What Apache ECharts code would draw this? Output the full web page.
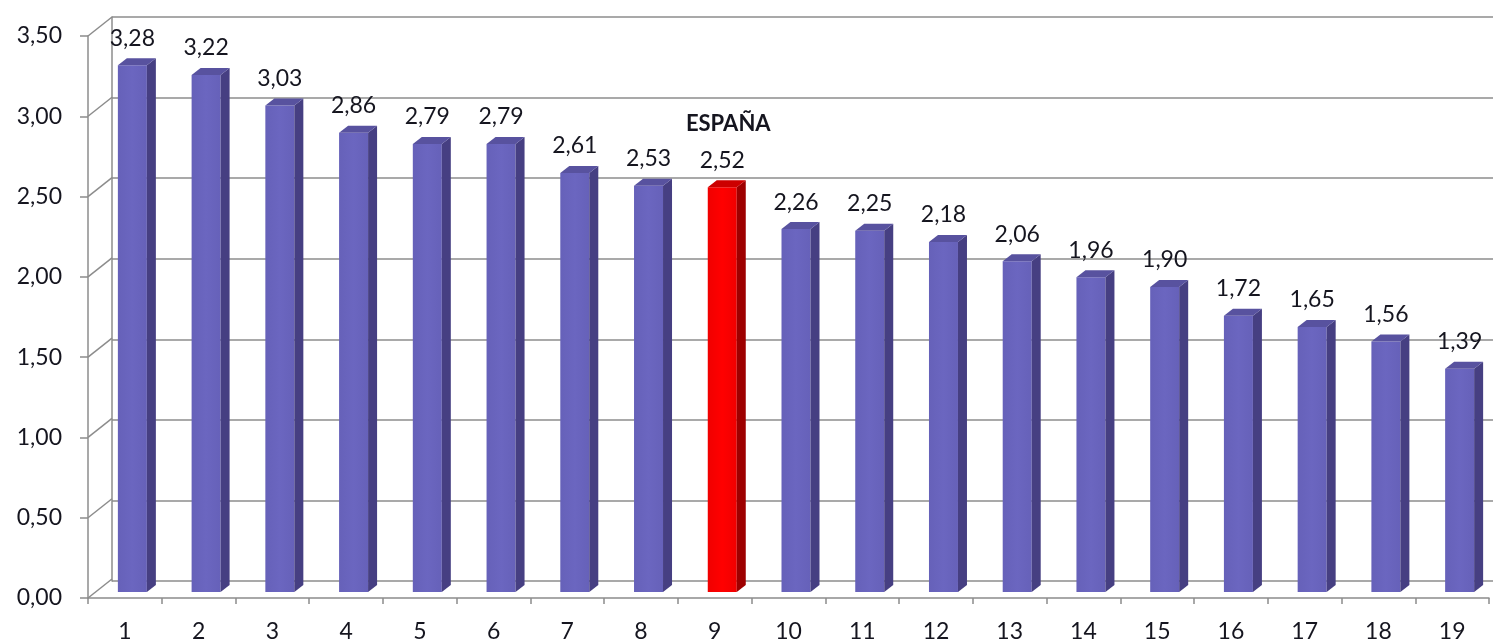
<!DOCTYPE html>
<html>
<head>
<meta charset="utf-8">
<script src="https://cdn.jsdelivr.net/npm/echarts@6/dist/echarts.min.js"></script>
<style>
    html, body { margin: 0; padding: 0; background: #fff; }
    #chart { width: 1493px; height: 643px; }
</style>
</head>
<body>
<div id="chart"></div>
<script>
// datos
const categories = ['1', '2', '3', '4', '5', '6', '7', '8', '9', '10', '11', '12', '13', '14', '15', '16', '17', '18', '19'];
const values = [3.28, 3.22, 3.03, 2.86, 2.79, 2.79, 2.61, 2.53, 2.52, 2.26, 2.25, 2.18, 2.06, 1.96, 1.90, 1.72, 1.65, 1.56, 1.39];
const yTicks = [0, 0.5, 1, 1.5, 2, 2.5, 3, 3.5];
const highlightIndex = 8;
const highlightName = 'ESPAÑA';

const FONT = 'Lato, "DejaVu Sans", sans-serif';
const TEXT = '#15151f';
const GRID_COLOR = '#8c8c8c';
// profundidad del "3D"
const DEPTH_X = 24, DEPTH_Y = 19;
const BAR_DX = 9, BAR_DY = 6;

const fmt = v => v.toFixed(2).replace('.', ',');

const chart = echarts.init(document.getElementById('chart'));

// paredes: diagonales entre eje frontal y pared del fondo
function renderWall(params, api) {
    const y = api.coord([0, api.value(1)])[1];
    const x0 = params.coordSys.x;
    return {
        type: 'line',
        shape: { x1: x0, y1: y, x2: x0 + DEPTH_X, y2: y - DEPTH_Y },
        style: { stroke: GRID_COLOR, lineWidth: 1.5 },
        silent: true
    };
}

// barras con cara frontal, lateral y superior
function renderBar(params, api) {
    const idx = api.value(0);
    const val = api.value(1);
    const top = api.coord([idx, val]);
    const base = api.coord([idx, 0]);
    const cx = top[0];
    const x1 = cx - 7, x2 = cx + 22; // cara frontal
    const yb = base[1] - BAR_DY;
    const yt = top[1] - BAR_DY;
    const red = idx === highlightIndex;
    const front = red ? '#ff0000' : '#6b66c0';
    const side = red ? '#9e0000' : '#463f82';
    const lid = red ? '#cc0000' : '#58529f';

    const children = [
        {
            type: 'rect',
            shape: { x: x1, y: yt, width: x2 - x1, height: yb - yt },
            style: {
                fill: new echarts.graphic.LinearGradient(0, 0, 1, 0, [
                    { offset: 0, color: red ? '#f00000' : '#6661b9' },
                    { offset: 0.5, color: front },
                    { offset: 1, color: red ? '#f00000' : '#6661b9' }
                ])
            }
        },
        {
            type: 'polygon',
            shape: { points: [[x2, yb], [x2, yt], [x2 + BAR_DX, yt - BAR_DY - 1], [x2 + BAR_DX, yb - BAR_DY - 1]] },
            style: { fill: side }
        },
        {
            type: 'polygon',
            shape: { points: [[x1, yt], [x1 + BAR_DX, yt - BAR_DY - 1], [x2 + BAR_DX, yt - BAR_DY - 1], [x2, yt]] },
            style: { fill: lid }
        },
        {
            type: 'text',
            style: {
                x: (x1 + x2) / 2,
                y: yt - 27,
                text: fmt(val),
                fill: TEXT,
                fontSize: 23,
                fontFamily: FONT,
                align: 'center',
                verticalAlign: 'middle'
            }
        }
    ];
    if (red) {
        children.push({
            type: 'text',
            style: {
                x: (x1 + x2) / 2 + 6,
                y: yt - 63,
                text: highlightName,
                fill: TEXT,
                fontSize: 22,
                fontWeight: 'bold',
                fontFamily: FONT,
                align: 'center',
                verticalAlign: 'middle'
            }
        });
    }
    return { type: 'group', children: children };
}

const option = {
    backgroundColor: '#ffffff',
    animation: false,
    grid: [
        { left: 88, top: 36, width: 1401, height: 563 },   // frontal
        { left: 112, top: 17, width: 1401, height: 564 }   // fondo
    ],
    xAxis: [
        {
            gridIndex: 0,
            type: 'category',
            data: categories,
            boundaryGap: true,
            axisLine: { lineStyle: { color: GRID_COLOR, width: 1.5 } },
            axisTick: { show: true, interval: 0, length: 6, lineStyle: { color: GRID_COLOR, width: 1.5 } },
            axisLabel: { interval: 0, margin: 22, fontSize: 23, color: TEXT, fontFamily: FONT },
            splitLine: { show: false }
        },
        {
            gridIndex: 1,
            type: 'category',
            data: categories,
            show: false
        }
    ],
    yAxis: [
        {
            gridIndex: 0,
            type: 'value',
            min: 0,
            max: 3.5,
            interval: 0.5,
            axisLine: { show: true, lineStyle: { color: GRID_COLOR, width: 1.5 } },
            axisTick: { show: true, length: 8, lineStyle: { color: GRID_COLOR, width: 1.5 } },
            axisLabel: { margin: 26, fontSize: 23, color: TEXT, fontFamily: FONT, formatter: v => fmt(v) },
            splitLine: { show: false }
        },
        {
            gridIndex: 1,
            type: 'value',
            min: 0,
            max: 3.5,
            interval: 0.5,
            axisLine: { show: true, lineStyle: { color: GRID_COLOR, width: 1.5 } },
            axisTick: { show: false },
            axisLabel: { show: false },
            splitLine: { show: true, lineStyle: { color: GRID_COLOR, width: 1.5 } }
        }
    ],
    series: [
        {
            type: 'custom',
            name: 'walls',
            xAxisIndex: 0,
            yAxisIndex: 0,
            silent: true,
            clip: false,
            z: 1,
            data: yTicks.map(v => [0, v]),
            renderItem: renderWall
        },
        {
            type: 'custom',
            name: 'valores',
            xAxisIndex: 0,
            yAxisIndex: 0,
            clip: false,
            z: 5,
            data: values.map((v, i) => [i, v]),
            renderItem: renderBar
        }
    ]
};

chart.setOption(option);
</script>
</body>
</html>
